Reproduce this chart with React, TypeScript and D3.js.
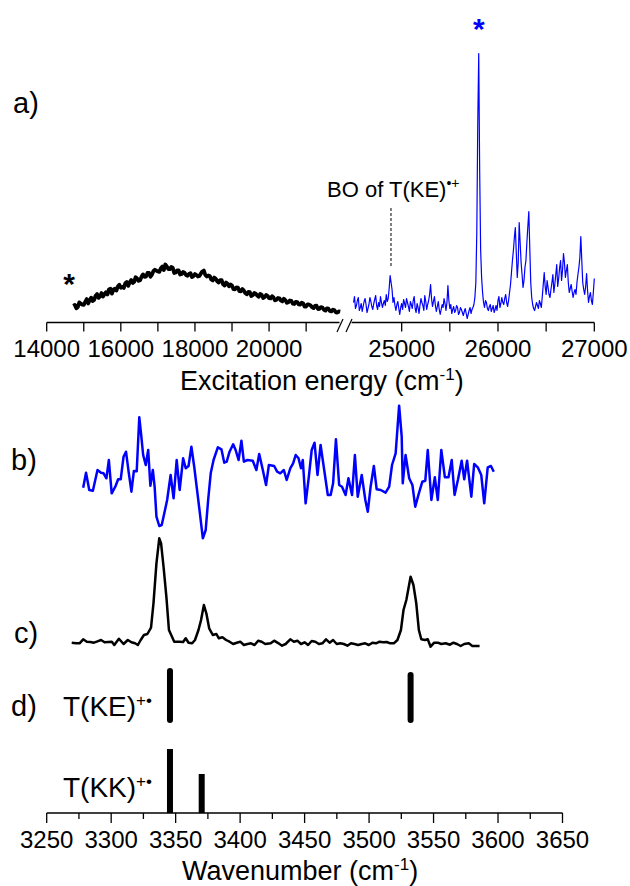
import React from "react";
import * as d3 from "d3";

// ---------- DATA ----------
// a) excitation spectrum, visible part (black), [energy cm-1, intensity]
const blackTop: [number, number][] = [
  [14720,16.5],[14760,17.6],[14800,14.3],[14840,15.5],[14880,20.1],[14920,18.8],[14960,17.9],[15000,17.6],
  [15040,20.7],[15080,23.4],[15120,19],[15160,22.2],[15200,24.8],[15240,21.5],[15280,22.6],[15320,26.8],
  [15360,28.4],[15400,24.6],[15440,26.2],[15480,29.4],[15520,26],[15560,28.2],[15600,30.3],[15640,28],
  [15680,33.1],[15720,33.8],[15760,28.9],[15800,33],[15840,33.7],[15880,31.9],[15920,36],[15960,37.7],
  [16000,34.8],[16040,35.5],[16080,34.6],[16120,39.3],[16160,40.4],[16200,36.6],[16240,40.2],[16280,42.4],
  [16320,39.5],[16360,40.7],[16400,45.3],[16440,44],[16480,41.6],[16520,42.3],[16560,45.9],[16600,48.1],
  [16640,45.7],[16680,45.9],[16720,49.5],[16760,49.7],[16800,45.8],[16840,47.9],[16880,51.5],[16920,52.7],
  [16960,51.8],[17000,51],[17040,50.6],[17080,54.3],[17120,55.9],[17160,52.5],[17200,58],[17240,56],
  [17280,53.5],[17320,53.3],[17360,55.5],[17400,54.8],[17440,49.5],[17480,50],[17520,52],[17560,52],
  [17600,48],[17640,48.5],[17680,50.5],[17720,49.8],[17760,47.5],[17800,46.8],[17840,48.5],[17880,49.3],
  [17920,45.5],[17960,46.3],[18000,48.5],[18040,47.5],[18080,46],[18120,46.5],[18160,49],[18200,51],
  [18240,52],[18280,47.5],[18320,46],[18360,47],[18400,46.5],[18440,43],[18480,42],[18520,44.9],
  [18560,43.8],[18600,41.2],[18640,40],[18680,42.4],[18720,42.3],[18760,38.2],[18800,37],[18840,39.9],
  [18880,38.8],[18920,36.2],[18960,38],[19000,36.9],[19040,33.3],[19080,33.2],[19120,35],[19160,34.9],
  [19200,31.3],[19240,31.2],[19280,33.5],[19320,31.9],[19360,29.3],[19400,28.2],[19440,30.5],[19480,30.3],
  [19520,26.5],[19560,27.3],[19600,29.5],[19640,28.8],[19680,27],[19720,25.8],[19760,28.5],[19800,27.8],
  [19840,24.5],[19880,25.3],[19920,27.5],[19960,26.7],[20000,24.4],[20040,24.1],[20080,26.3],[20120,25],
  [20160,22.1],[20200,22.8],[20240,24.5],[20280,24.2],[20320,21.9],[20360,21.1],[20400,23.7],[20440,22.4],
  [20480,19.6],[20520,20.3],[20560,22],[20600,21.7],[20640,18.8],[20680,18.5],[20720,20.7],[20760,20.4],
  [20800,18.1],[20840,17.8],[20880,19.9],[20920,19.1],[20960,15.8],[21000,16],[21040,18.2],[21080,17.9],
  [21120,17.1],[21160,15.3],[21200,14.4],[21240,16.6],[21280,16.8],[21320,13.5],[21360,13.7],[21400,15.4],
  [21440,15],[21480,12.7],[21520,11.9],[21560,14.1],[21600,13.8],[21640,11.5],[21680,11.1],[21720,12.8],
  [21760,12.5],[21800,10.2],[21840,9.9],[21880,11.1],[21920,10.8]
];

// a) excitation spectrum, UV part (blue)
const blueTop: [number, number][] = [
  [24500,20],[24510,26],[24520,14],[24530,17],[24540,22],[24550,25],[24560,12],[24570,15],[24580,19],[24590,11],
  [24600,16],[24610,21],[24620,24],[24630,18],[24640,10],[24650,14],[24660,18],[24670,25],[24680,21],[24690,16],
  [24700,13],[24710,19],[24720,23],[24730,27],[24740,17],[24750,13],[24760,20],[24770,16],[24780,26],[24790,20],
  [24800,15],[24810,19],[24820,22],[24830,17],[24840,28],[24850,21],[24860,24],[24870,34],[24880,47],[24890,40],
  [24900,33],[24910,20],[24920,25],[24930,17],[24940,12],[24950,18],[24960,21],[24970,14],[24980,8],[24990,15],
  [25000,19],[25010,13],[25020,23],[25030,19],[25040,15],[25050,24],[25060,20],[25070,16],[25080,11],[25090,21],
  [25100,18],[25110,14],[25120,22],[25130,26],[25140,14],[25150,10],[25160,19],[25170,15],[25180,9],[25190,17],
  [25200,24],[25210,20],[25220,17],[25230,12],[25240,27],[25250,21],[25260,13],[25270,18],[25280,22],[25290,28],
  [25300,38],[25310,24],[25320,16],[25330,21],[25340,26],[25350,17],[25360,11],[25370,16],[25380,21],[25390,13],
  [25400,8],[25410,13],[25420,18],[25430,15],[25440,24],[25450,19],[25460,12],[25470,20],[25480,37],[25490,22],
  [25500,14],[25510,18],[25520,9],[25530,13],[25540,16],[25550,10],[25560,12],[25570,17],[25580,15],[25590,8],
  [25600,10],[25610,15],[25620,13],[25630,10],[25640,7],[25650,11],[25660,14],[25670,9],[25680,4],[25690,8],
  [25700,12],[25710,15],[25720,9],[25730,13],[25740,15],[25750,18],[25760,25],[25770,40],[25780,90],[25790,200],
  [25800,269],[25810,150],[25820,72],[25830,45],[25840,30],[25850,20],[25860,15],[25870,22],[25880,20],[25890,14],
  [25900,12],[25910,16],[25920,18],[25930,11],[25940,14],[25950,17],[25960,10],[25970,13],[25980,17],[25990,12],
  [26000,22],[26010,26],[26020,15],[26030,19],[26040,25],[26050,20],[26060,18],[26070,24],[26080,28],[26090,20],
  [26100,16],[26110,22],[26120,30],[26130,38],[26140,50],[26150,62],[26160,72],[26170,85],[26180,95],[26190,70],
  [26200,45],[26210,60],[26220,100],[26230,80],[26240,60],[26250,48],[26260,35],[26270,42],[26280,55],[26290,62],
  [26300,80],[26310,96],[26320,111],[26330,75],[26340,40],[26350,25],[26360,18],[26370,14],[26380,12],[26390,16],
  [26400,20],[26410,17],[26420,14],[26430,22],[26440,19],[26450,15],[26460,26],[26470,38],[26480,50],[26490,36],
  [26500,28],[26510,42],[26520,35],[26530,28],[26540,25],[26550,33],[26560,40],[26570,48],[26580,30],[26590,38],
  [26600,48],[26610,58],[26620,36],[26630,44],[26640,55],[26650,62],[26660,42],[26670,52],[26680,69],[26690,60],
  [26700,45],[26710,52],[26720,58],[26730,40],[26740,30],[26750,34],[26760,38],[26770,31],[26780,25],[26790,30],
  [26800,33],[26810,28],[26820,40],[26830,48],[26840,55],[26850,65],[26860,86],[26870,62],[26880,40],[26890,33],
  [26900,28],[26910,36],[26920,49],[26930,32],[26940,20],[26950,26],[26960,30],[26970,22],[26980,18],[26990,30],
  [27000,44]
];

const boOrigin = 24889; // band origin of T(KE)•+
const starBlue = 25800;

// b) IR spectrum (blue), [wavenumber, intensity]
const irB: [number, number][] = [
  [3278.3,57.3],[3280.5,72.3],[3283.0,55],[3285.8,54.3],[3289.4,75],[3292.1,72.3],[3294.1,71.7],[3296.3,66.7],
  [3298.2,85],[3300.4,51.7],[3303.2,58.3],[3305.4,65.7],[3307.4,65.7],[3309.6,88.3],[3311.5,93.3],[3313.7,71.7],
  [3315.7,53.3],[3317.6,74],[3319.8,73.7],[3321.8,127.7],[3323.4,108.3],[3324.8,90],[3326.8,80],[3328.7,95],
  [3330.4,59.3],[3332.3,75],[3333.7,58.3],[3335.1,28.3],[3337.3,19],[3339.2,20],[3341.2,31.7],[3343.4,45],
  [3346.1,70],[3348.4,46.7],[3350.8,85],[3353.1,55],[3355.8,86.7],[3357.8,76.7],[3360.0,79],[3362.2,98.3],
  [3364.4,78.3],[3366.6,55],[3368.8,31.7],[3371.1,6.7],[3373.3,15],[3375.2,45],[3377.2,71.7],[3379.4,85],
  [3382.7,97.7],[3385.5,95.7],[3387.7,82.3],[3389.6,83.3],[3391.8,93.3],[3394.6,100.7],[3396.5,95],[3398.8,85],
  [3401.0,104.3],[3402.9,83.3],[3405.7,85],[3409.8,84.3],[3412.6,75],[3414.8,91],[3417.6,75],[3420.1,60],
  [3422.3,80],[3426.4,79],[3428.7,73.3],[3431.1,71.7],[3433.9,75],[3436.1,65],[3438.9,76.7],[3441.1,81.7],
  [3443.1,90],[3445.3,86.7],[3447.2,76.7],[3448.6,85],[3450.8,41.7],[3453.3,68.3],[3455.5,95],[3457.7,102.3],
  [3460.0,70],[3462.4,100],[3465.2,75],[3468.0,50],[3470.2,50],[3472.1,61.7],[3474.3,105.7],[3476.8,60],
  [3479.0,58.3],[3481.8,50],[3484.0,66.7],[3486.8,50],[3489.0,90],[3491.2,48.3],[3494.3,70],[3497.1,45],
  [3499.0,33.3],[3501.2,58.3],[3503.7,79],[3505.9,55.7],[3509.0,55],[3512.8,52.3],[3515.6,58.3],[3517.8,80],
  [3520.6,91.7],[3523.3,139.3],[3525.3,108.3],[3526.1,61.7],[3528.3,90],[3531.1,66.7],[3533.6,60],[3535.8,38.3],
  [3538.6,51.7],[3541.3,63.3],[3543.6,64.3],[3545.5,95],[3548.3,45],[3551.0,67.7],[3553.3,45],[3556.0,95],
  [3558.8,67.7],[3561.6,67.7],[3564.1,85],[3566.3,50],[3569.0,65.7],[3571.8,84.3],[3573.8,65.7],[3576.0,84.3],
  [3579.3,48.3],[3581.5,81],[3584.3,77.7],[3587.0,70],[3589.3,41.7],[3592.0,77.7],[3594.5,79],[3596.7,73.3]
];

// c) IR spectrum (black)
const irC: [number, number][] = [
  [3269.4,2.3],[3272.8,1.7],[3275.5,1.7],[3278.3,5.7],[3281.1,3.3],[3283.8,3],[3286.6,2.3],[3289.4,3.7],
  [3292.1,5],[3294.9,2.7],[3297.7,3],[3300.5,3.3],[3302.4,0],[3306.0,6.3],[3309.6,1],[3312.9,5],
  [3315.7,2.7],[3318.5,1.7],[3320.7,0],[3322.9,5],[3325.4,10],[3328.1,11],[3330.9,17.3],[3332.8,41.7],
  [3335.1,81.7],[3337.3,106.7],[3338.7,101.7],[3340.6,78.3],[3342.8,48.3],[3344.8,15],[3348.9,3.3],[3353.1,3.3],
  [3355.8,3],[3357.8,6.7],[3360.0,2.3],[3362.8,1.7],[3365.0,5],[3367.7,15],[3369.7,25],[3371.9,40],
  [3373.8,31.7],[3376.0,16.7],[3378.8,10],[3381.6,11],[3383.5,6.7],[3386.3,7.7],[3389.1,5],[3391.8,3.3],
  [3394.6,1],[3397.4,2.3],[3400.1,3.3],[3402.9,0],[3405.7,1],[3408.4,1.7],[3411.2,0],[3414.0,4.3],
  [3416.7,3.3],[3419.5,1],[3423.7,1.7],[3426.4,4.3],[3429.8,1.7],[3432.5,-0.7],[3435.3,1],[3438.9,5.7],
  [3441.7,3.3],[3444.4,4.3],[3447.2,1],[3450.0,2.7],[3452.7,0],[3455.5,4],[3458.3,3.3],[3461.1,1],
  [3463.8,1.7],[3466.6,5.7],[3469.4,2.3],[3472.1,5],[3474.9,1],[3477.7,1.7],[3480.4,1],[3483.2,-0.7],
  [3486.0,1.7],[3488.7,1],[3491.5,0],[3494.3,1],[3497.0,1.7],[3499.8,0],[3502.6,2.3],[3505.4,1.7],
  [3508.1,3.3],[3510.9,2.7],[3513.7,3],[3516.4,1.7],[3519.2,1.7],[3522.0,5],[3524.7,15],[3526.7,35],
  [3528.9,45],[3532.2,68.3],[3534.4,60],[3536.6,41.7],[3538.6,15],[3540.5,5.7],[3543.3,5],[3545.5,5.7],
  [3547.7,-1.7],[3550.5,2.3],[3553.3,2.3],[3556.0,1],[3559.4,1.7],[3562.7,0.3],[3565.4,2.3],[3568.2,1],
  [3571.0,-1],[3573.8,1],[3577.3,1.7],[3580.1,-1],[3585.7,-1]
];

// d) computed stick spectra
const sticksKE: [number, number][] = [[3345.6, 55], [3532.2, 51]];
const sticksKK: [number, number][] = [[3345.6, 64], [3370.2, 39]];

// axis ticks
const topLeftTicks = [14000, 15000, 16000, 17000, 18000, 19000, 20000, 21000];
const topLeftLabels = [14000, 16000, 18000, 20000];
const topRightTicks = [25000, 25500, 26000, 26500, 27000];
const topRightLabels = [25000, 26000, 27000];
const bottomTicks = [3250,3275,3300,3325,3350,3375,3400,3425,3450,3475,3500,3525,3550,3575,3600,3625,3650];
const bottomLabels = [3250, 3300, 3350, 3400, 3450, 3500, 3550, 3600, 3650];

const FONT = "'Liberation Sans', Arial, Helvetica, sans-serif";

export default function App() {
  const axisY = 322.5;
  const xLeft = d3.scaleLinear().domain([14000, 21900]).range([46.7, 339.5]);
  const xRight = d3.scaleLinear().domain([24480, 27000]).range([351.6, 594.3]);
  const yTop = d3.scaleLinear().domain([0, 270]).range([axisY, 52.5]);

  const botY = 813;
  const xWn = d3.scaleLinear().domain([3250, 3650]).range([46.7, 562.5]);
  const yB = d3.scaleLinear().domain([0, 100]).range([545, 445]);
  const yC = d3.scaleLinear().domain([0, 100]).range([645, 545]);
  const yKE = d3.scaleLinear().domain([0, 100]).range([723, 623]);
  const yKK = d3.scaleLinear().domain([0, 100]).range([botY, botY - 100]);

  const lineLeft = d3.line<[number, number]>().x(d => xLeft(d[0])).y(d => yTop(d[1]));
  const lineRight = d3.line<[number, number]>().x(d => xRight(d[0])).y(d => yTop(d[1]));
  const lineB = d3.line<[number, number]>().x(d => xWn(d[0])).y(d => yB(d[1]));
  const lineC = d3.line<[number, number]>().x(d => xWn(d[0])).y(d => yC(d[1]));

  const stickW = 6;

  return (
    <svg width={630} height={886} style={{ position: "absolute", left: 0, top: 0, background: "#fff" }}
      fontFamily={FONT}>
      <rect x={0} y={0} width={630} height={886} fill="#fff" />

      {/* panel labels */}
      <text x={13} y={113} fontSize={29}>a)</text>
      <text x={11} y={470} fontSize={29}>b)</text>
      <text x={14} y={643} fontSize={29}>c)</text>
      <text x={11} y={716} fontSize={29}>d)</text>

      {/* ===== a) ===== */}
      <path d={lineLeft(blackTop) || ""} fill="none" stroke="#000" strokeWidth={3.8} strokeLinejoin="round" />
      <path d={lineRight(blueTop) || ""} fill="none" stroke="#0000ff" strokeWidth={1.2} strokeLinejoin="round" />

      <text x={69} y={294} fontSize={30} fontWeight="bold" textAnchor="middle">*</text>
      <text x={xRight(starBlue)} y={39} fontSize={30} fontWeight="bold" textAnchor="middle" fill="#0000ff">*</text>

      <line x1={xRight(boOrigin)} x2={xRight(boOrigin)} y1={208} y2={266} stroke="#000" strokeWidth={1} strokeDasharray="3,2" />
      <text x={327} y={197} fontSize={22}>BO of T(KE)<tspan dy={-9} fontSize={14}>•+</tspan></text>

      {/* top axis */}
      <line x1={xLeft(14000)} x2={339.5} y1={axisY} y2={axisY} stroke="#000" strokeWidth={1.3} />
      <line x1={351.6} x2={xRight(27000)} y1={axisY} y2={axisY} stroke="#000" strokeWidth={1.3} />
      <line x1={337} y1={332} x2={343} y2={319} stroke="#000" strokeWidth={1.2} />
      <line x1={346} y1={332} x2={352} y2={319} stroke="#000" strokeWidth={1.2} />
      {topLeftTicks.map(t => (
        <line key={"tl" + t} x1={xLeft(t)} x2={xLeft(t)} y1={axisY} y2={axisY + 9} stroke="#000" strokeWidth={1.3} />
      ))}
      {topRightTicks.map(t => (
        <line key={"tr" + t} x1={xRight(t)} x2={xRight(t)} y1={axisY} y2={axisY + 9} stroke="#000" strokeWidth={1.3} />
      ))}
      {topLeftLabels.map(t => (
        <text key={"ll" + t} x={xLeft(t)} y={357} fontSize={24} textAnchor="middle">{t}</text>
      ))}
      {topRightLabels.map(t => (
        <text key={"rl" + t} x={xRight(t)} y={357} fontSize={24} textAnchor="middle">{t}</text>
      ))}
      <text x={180} y={390} fontSize={27}>Excitation energy (cm<tspan dy={-10} fontSize={17}>-1</tspan><tspan dy={10}>)</tspan></text>

      {/* ===== b) ===== */}
      <path d={lineB(irB) || ""} fill="none" stroke="#0000ff" strokeWidth={2.5} strokeLinejoin="round" />

      {/* ===== c) ===== */}
      <path d={lineC(irC) || ""} fill="none" stroke="#000" strokeWidth={2.5} strokeLinejoin="round" />

      {/* ===== d) ===== */}
      <text x={63} y={716} fontSize={28}>T(KE)<tspan dy={-10} fontSize={17}>+•</tspan></text>
      <text x={63} y={797} fontSize={28}>T(KK)<tspan dy={-10} fontSize={17}>+•</tspan></text>
      {sticksKE.map(([w, v]) => (
        <rect key={"ke" + w} x={xWn(w) - stickW / 2} y={yKE(v)} width={stickW} height={yKE(0) - yKE(v)} rx={3} fill="#000" />
      ))}
      {sticksKK.map(([w, v]) => (
        <rect key={"kk" + w} x={xWn(w) - stickW / 2} y={yKK(v)} width={stickW} height={yKK(0) - yKK(v)} fill="#000" />
      ))}

      {/* bottom axis */}
      <line x1={xWn(3250)} x2={xWn(3650)} y1={botY} y2={botY} stroke="#000" strokeWidth={1.3} />
      {bottomTicks.map(t => (
        <line key={"bt" + t} x1={xWn(t)} x2={xWn(t)} y1={botY}
          y2={botY + (bottomLabels.includes(t) ? 10 : 6)} stroke="#000" strokeWidth={1.3} />
      ))}
      {bottomLabels.map(t => (
        <text key={"bl" + t} x={xWn(t)} y={848} fontSize={24} textAnchor="middle">{t}</text>
      ))}
      <text x={182} y={880} fontSize={27}>Wavenumber (cm<tspan dy={-10} fontSize={17}>-1</tspan><tspan dy={10}>)</tspan></text>
    </svg>
  );
}
